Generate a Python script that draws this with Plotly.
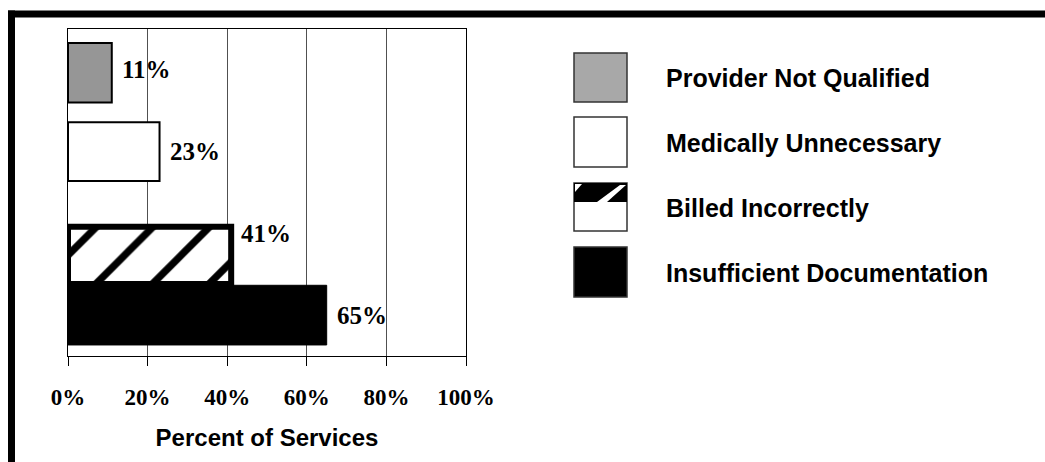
import plotly.graph_objects as go

# ---------------- data ----------------
categories = ["Provider Not Qualified", "Medically Unnecessary",
              "Billed Incorrectly", "Insufficient Documentation"]
values = [11, 23, 41, 65]
value_labels = ["11%", "23%", "41%", "65%"]
x_ticks = [0, 20, 40, 60, 80, 100]
x_tick_labels = ["0%", "20%", "40%", "60%", "80%", "100%"]
x_title = "Percent of Services"

# ---------------- layout geometry (pixels) ----------------
W, H = 1045, 462
L, R, T, B = 68, 466, 29, 356


def px(x):
    return (x - L) / (R - L)


def py(y):
    return (B - y) / (B - T)


bar_styles = [
    dict(marker=dict(color="#969696", line=dict(color="black", width=2)), width=0.73, offset=-0.33),
    dict(marker=dict(color="white", line=dict(color="black", width=2)), width=0.72),
    dict(marker=dict(color="white",
                     pattern=dict(shape="/", fgcolor="black", bgcolor="white",
                                  size=40, solidity=0.18, fillmode="replace"),
                     line=dict(color="black", width=6)),
         width=0.70, offset=-0.08),
    dict(marker=dict(color="black", line=dict(color="black", width=1)), width=0.73),
]

fig = go.Figure()
for cat, val, st in zip(categories, values, bar_styles):
    fig.add_trace(go.Bar(x=[val], y=[cat], orientation="h", name=cat,
                         showlegend=False, **st))

serif = "Liberation Serif, Times New Roman, serif"
sans = "Liberation Sans, Arial, sans-serif"

annotations = []
for cat, val, lab in zip(categories, values, value_labels):
    annotations.append(dict(x=val, y=cat, xref="x", yref="y", text=lab,
                            showarrow=False, xanchor="left", xshift=8,
                            font=dict(family=serif, size=25, color="black", weight="bold")))

# ---------------- manual legend ----------------
legend_fill = ["#a8a8a8", "white", "white", "black"]
legend_box_y = [(53, 102), (117, 167), (183, 231), (247, 297)]
legend_text_y = [78, 143, 208, 273]
bx0, bx1 = 574, 627
shapes = []
for cat, fill, (y0, y1), ty in zip(categories, legend_fill, legend_box_y, legend_text_y):
    shapes.append(dict(type="rect", xref="paper", yref="paper",
                       x0=px(bx0), x1=px(bx1), y0=py(y1), y1=py(y0),
                       fillcolor=fill, line=dict(color="#333333", width=1.5)))
    annotations.append(dict(x=px(664), y=py(ty), xref="paper", yref="paper",
                            text=cat, showarrow=False, xanchor="left", yanchor="middle",
                            font=dict(family=sans, size=25, color="black", weight="bold")))
# hatch hint in the "Billed Incorrectly" swatch
y0, y1 = legend_box_y[2]
shapes.append(dict(type="rect", xref="paper", yref="paper",
                   x0=px(bx0), x1=px(bx1), y0=py(y0 + 19), y1=py(y0),
                   fillcolor="black", line=dict(width=0)))
shapes.append(dict(type="path", xref="paper", yref="paper",
                   path=f"M {px(bx0+1)},{py(y0+1)} L {px(bx0+8)},{py(y0+1)} L {px(bx0+1)},{py(y0+9)} Z",
                   fillcolor="white", line=dict(width=0)))
shapes.append(dict(type="path", xref="paper", yref="paper",
                   path=f"M {px(597)},{py(y0+19)} L {px(607)},{py(y0+19)} L {px(626)},{py(y0+2)} L {px(620)},{py(y0+2)} Z",
                   fillcolor="white", line=dict(width=0)))

# ---------------- outer frame (top and left heavy lines) ----------------
shapes.append(dict(type="line", xref="paper", yref="paper",
                   x0=px(8), x1=px(1060), y0=py(14), y1=py(14),
                   line=dict(color="black", width=7)))
shapes.append(dict(type="line", xref="paper", yref="paper",
                   x0=px(11.5), x1=px(11.5), y0=py(10.5), y1=py(480),
                   line=dict(color="black", width=7)))

fig.update_layout(
    width=W, height=H,
    margin=dict(l=L, r=W - R, t=T, b=H - B, pad=0),
    barmode="overlay",
    paper_bgcolor="white", plot_bgcolor="white",
    showlegend=False,
    annotations=annotations,
    shapes=shapes,
    xaxis=dict(range=[0, 100], tickmode="array", tickvals=x_ticks, ticktext=x_tick_labels,
               showgrid=True, gridcolor="#505050", gridwidth=1,
               showline=True, linecolor="black", linewidth=1, mirror=True,
               ticks="outside", ticklen=9, tickcolor="black", tickwidth=1,
               ticklabelstandoff=11,
               tickfont=dict(family=serif, size=23, color="black", weight="bold"),
               title=dict(text=x_title, standoff=20,
                          font=dict(family=sans, size=24, color="black", weight="bold")),
               zeroline=False, fixedrange=True),
    yaxis=dict(type="category", categoryorder="array", categoryarray=categories,
               range=[3.5, -0.5], showticklabels=False, ticks="",
               showgrid=False, showline=True, linecolor="black", linewidth=1, mirror=True,
               zeroline=False, fixedrange=True),
)

fig.write_html("out.html", config={"displayModeBar": False},
               post_script="document.body.style.margin='0';document.body.style.overflow='hidden';")
